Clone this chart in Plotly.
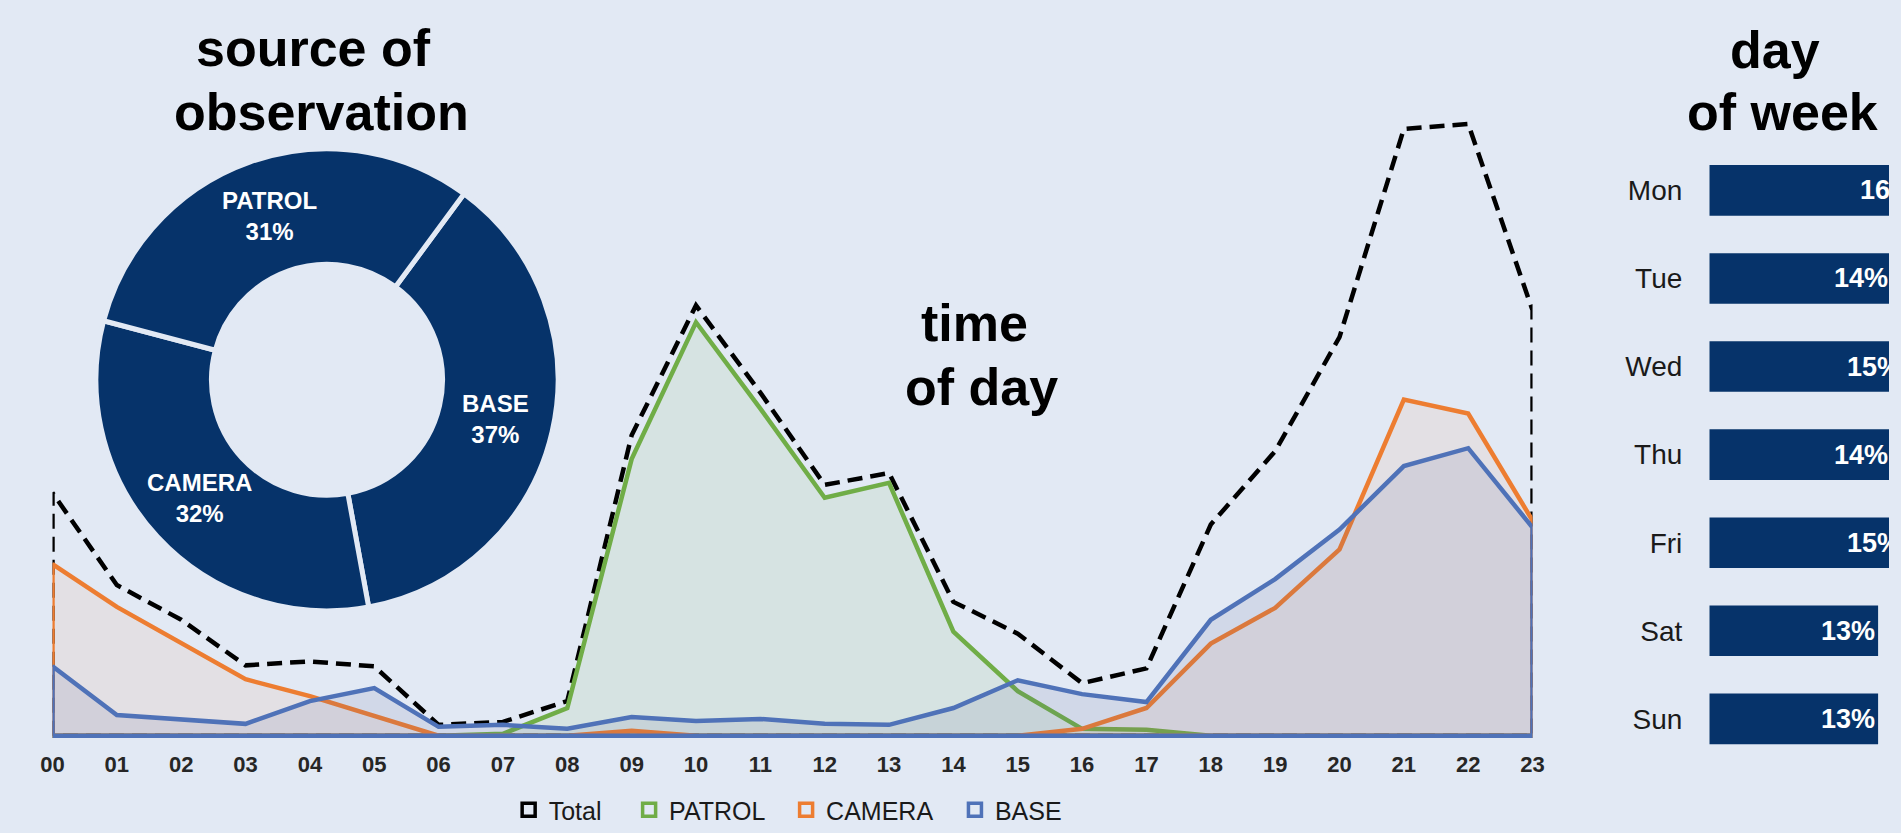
import math
import plotly.graph_objects as go

# ---- data -------------------------------------------------------------
hours = list(range(24))
hour_labels = [f"{h:02d}" for h in hours]

patrol = [0, 0, 0, 0, 0, 0, 0, 2, 28, 279, 417, 330, 240, 255, 105, 45, 7, 6, 0, 0, 0, 0, 0, 0]
camera = [173, 130, 93, 57, 40, 20, 0, 0, 0, 5, 0, 0, 0, 0, 0, 0, 7, 28, 93, 129, 188, 339, 325, 217]
base = [70, 21, 17, 12, 35, 48, 9, 11, 7, 19, 15, 17, 12, 11, 28, 56, 42, 34, 117, 158, 208, 272, 290, 210]
total = [245, 152, 117, 71, 75, 70, 11, 14, 35, 303, 434, 346, 253, 265, 135, 103, 53, 68, 213, 287, 402, 612, 617, 429]

sources = ["BASE", "CAMERA", "PATROL"]
source_share = [37, 32, 31]

days = ["Mon", "Tue", "Wed", "Thu", "Fri", "Sat", "Sun"]
day_share = [16, 14, 15, 14, 15, 13, 13]

# ---- styling ----------------------------------------------------------
W, H = 1901, 833
BG = "#E2E9F4"
NAVY = "#06336A"
FONT = "Liberation Sans, Arial, Helvetica, sans-serif"

series = [
    ("PATROL", patrol, "#70AD47", "rgba(112,173,71,0.10)"),
    ("CAMERA", camera, "#ED7D31", "rgba(237,125,49,0.08)"),
    ("BASE", base, "#4F72B8", "rgba(90,100,150,0.12)"),
]


def outline(vals):
    """Closed area outline: up the left edge, along the values, down and back along the base."""
    xs = [hours[0]] + hours + [hours[-1], hours[0]]
    ys = [0] + list(vals) + [0, 0]
    return xs, ys


def px_x(p):
    return p / W


def px_y(p):
    return (H - p) / H


fig = go.Figure()

# total (dashed outline, no fill)
tx, ty = outline(total)
fig.add_trace(go.Scatter(
    x=tx, y=ty, mode="lines", showlegend=False, hoverinfo="skip",
    line=dict(color="black", width=4.5, dash="15px,8px"),
    xaxis="x", yaxis="y",
))

for name, vals, col, fillcol in series:
    sx, sy = outline(vals)
    fig.add_trace(go.Scatter(
        x=sx, y=sy, mode="lines", fill="toself", fillcolor=fillcol,
        line=dict(color=col, width=4.5), showlegend=False, name=name,
        xaxis="x", yaxis="y", hoverinfo="skip",
    ))

# legend entries, each in its own legend so they can be placed freely
legend_items = [
    ("Total", "black", "legend", 503),
    ("PATROL", "#70AD47", "legend2", 625),
    ("CAMERA", "#ED7D31", "legend3", 784),
    ("BASE", "#4F72B8", "legend4", 955),
]
for name, col, lg, _ in legend_items:
    fig.add_trace(go.Scatter(
        x=[None], y=[None], mode="markers", name=name, legend=lg,
        marker=dict(symbol="square-open", size=13, color=col, line=dict(width=3.5, color=col)),
        xaxis="x", yaxis="y",
    ))

# day-of-week bars
fig.add_trace(go.Bar(
    x=day_share, y=days, orientation="h", xaxis="x2", yaxis="y2",
    marker=dict(color=NAVY, line=dict(width=0)),
    text=[f"{v}%" for v in day_share], textposition="inside", insidetextanchor="end",
    textfont=dict(color="white", size=27, family=FONT, weight="bold"),
    showlegend=False, hoverinfo="skip",
))

# source donut
cx, cy, r = 319, 383, 234
hole = 0.5
rotation = 36.4
fig.add_trace(go.Pie(
    labels=sources, values=source_share, sort=False, direction="clockwise",
    rotation=rotation, hole=hole,
    marker=dict(colors=[NAVY] * 3, line=dict(color=BG, width=5)),
    textinfo="none",
    domain=dict(x=[px_x(cx - r), px_x(cx + r)], y=[px_y(cy + r), px_y(cy - r)]),
    showlegend=False, hoverinfo="skip",
))

# slice labels, placed mid-ring at each slice's centre angle
ring_mid = r * (1 + hole) / 2
cum = 0
tot = sum(source_share)
for lab, v in zip(sources, source_share):
    ang = math.radians(rotation + (cum + v / 2) / tot * 360)
    cum += v
    lx = cx + ring_mid * math.sin(ang)
    ly = cy - ring_mid * math.cos(ang)
    fig.add_annotation(
        text=f"{lab}<br>{v}%", xref="paper", yref="paper",
        x=px_x(lx), y=px_y(ly), xanchor="center", yanchor="middle",
        showarrow=False, align="center",
        font=dict(size=24, family=FONT, color="white", weight="bold"),
    )

# ---- layout -----------------------------------------------------------
legend_common = dict(
    orientation="h", xanchor="left", yanchor="middle", y=px_y(817),
    font=dict(size=25, family=FONT, color="#1a1a1a"), bgcolor="rgba(0,0,0,0)",
    borderwidth=0, itemclick=False, itemdoubleclick=False,
)
legends = {lg: dict(legend_common, x=px_x(x0)) for _, _, lg, x0 in legend_items}

bar_top, bar_bottom = 147.6, 769.4

fig.update_layout(
    width=W, height=H, margin=dict(l=0, r=0, t=0, b=0),
    paper_bgcolor=BG, plot_bgcolor="rgba(0,0,0,0)",
    font=dict(family=FONT, color="#1a1a1a"),
    bargap=0.426,
    xaxis=dict(
        domain=[px_x(41), px_x(1540)], range=[0, 23], anchor="y",
        tickmode="array", tickvals=hours, ticktext=hour_labels,
        showgrid=False, zeroline=False, showline=False, ticks="",
        tickfont=dict(size=22, family=FONT, color="#262626", weight="bold"),
        ticklabelstandoff=9, fixedrange=True,
    ),
    yaxis=dict(
        domain=[px_y(746), px_y(4)], range=[-4, 738], anchor="x",
        visible=False, fixedrange=True,
    ),
    xaxis2=dict(
        domain=[px_x(1719), 1.0], range=[0, 13.84], anchor="y2",
        visible=False, fixedrange=True,
    ),
    yaxis2=dict(
        domain=[px_y(bar_bottom), px_y(bar_top)], anchor="x2",
        categoryorder="array", categoryarray=days, autorange="reversed",
        showgrid=False, zeroline=False, showline=False, ticks="",
        tickfont=dict(size=28, family=FONT, color="#1a1a1a"),
        ticklabelstandoff=26, fixedrange=True,
    ),
    **legends,
)

titles = [
    ("source of", 305, 48),
    ("observation", 313, 113),
    ("time", 975, 326),
    ("of day", 982, 390),
    ("day", 1786, 50),
    ("of week", 1793, 113),
]
for txt, x, y in titles:
    fig.add_annotation(
        text=txt, xref="paper", yref="paper", x=px_x(x), y=px_y(y),
        xanchor="center", yanchor="middle", showarrow=False,
        font=dict(size=52, family=FONT, color="black", weight="bold"),
    )

fig.write_html("out.html", config={"displayModeBar": False})
